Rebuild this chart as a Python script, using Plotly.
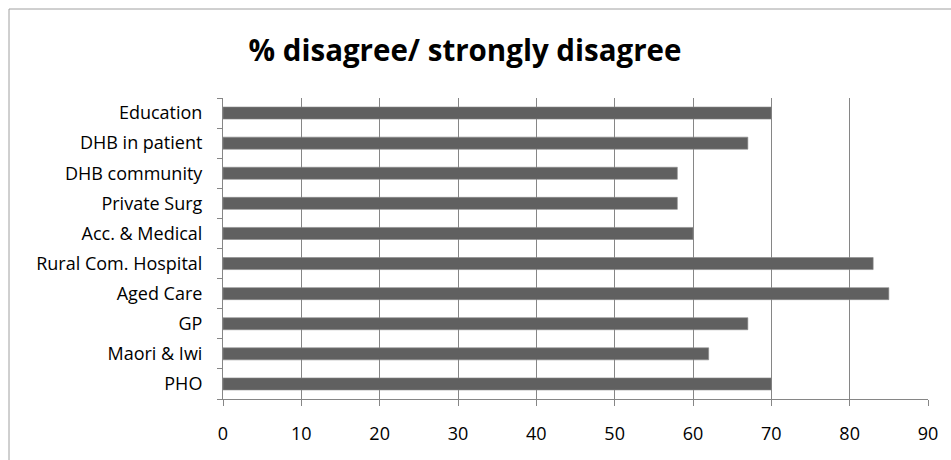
import plotly.graph_objects as go

# Survey categories (top to bottom as displayed) and % disagree/strongly disagree
categories = [
    "Education",
    "DHB in patient",
    "DHB community",
    "Private Surg",
    "Acc. & Medical",
    "Rural Com. Hospital",
    "Aged Care",
    "GP",
    "Maori & Iwi",
    "PHO",
]
values = [70, 67, 58, 58, 60, 83, 85, 67, 62, 70]
x_ticks = [0, 10, 20, 30, 40, 50, 60, 70, 80, 90]

FONT = "Open Sans"
GRID = "#868686"

fig = go.Figure(
    go.Bar(
        x=values[::-1],
        y=categories[::-1],
        orientation="h",
        width=0.4,
        marker=dict(color="#606060", line=dict(color="#8a8a8a", width=0.6)),
        hoverinfo="x+y",
    )
)

W, H = 951, 460
L, R, T, B = 223, 23, 98, 61
pw, ph = W - L - R, H - T - B

fig.update_layout(
    width=W,
    height=H,
    margin=dict(l=L, r=R, t=T, b=B),
    paper_bgcolor="white",
    plot_bgcolor="white",
    showlegend=False,
    bargap=0.6,
    title=dict(
        text="<b>% disagree/ strongly disagree</b>",
        font=dict(family=FONT, size=29.5, color="#000000"),
        x=465 / W,
        xanchor="center",
        y=1 - 51 / H,
        yanchor="middle",
    ),
    xaxis=dict(
        range=[0, 90],
        tickvals=x_ticks,
        ticktext=[str(v) for v in x_ticks],
        showgrid=True,
        gridcolor=GRID,
        gridwidth=1,
        zeroline=False,
        showline=True,
        linecolor=GRID,
        linewidth=1,
        ticks="outside",
        ticklen=6,
        tickcolor=GRID,
        tickfont=dict(family=FONT, size=18, color="#000000"),
        ticklabelstandoff=12,
    ),
    yaxis=dict(
        type="category",
        categoryorder="array",
        categoryarray=categories[::-1],
        tickson="boundaries",
        showgrid=False,
        showline=True,
        linecolor=GRID,
        linewidth=1,
        ticks="outside",
        ticklen=5,
        tickcolor=GRID,
        tickfont=dict(family=FONT, size=18, color="#000000"),
        ticklabelstandoff=16,
    ),
    shapes=[
        # chart frame: top and left edges
        dict(type="line", xref="paper", yref="paper",
             x0=(9 - L) / pw, x1=(W - L) / pw,
             y0=1 + (T - 9) / ph, y1=1 + (T - 9) / ph,
             line=dict(color="#a0a0a0", width=1)),
        dict(type="line", xref="paper", yref="paper",
             x0=(9 - L) / pw, x1=(9 - L) / pw,
             y0=1 + (T - 9) / ph, y1=-B / ph,
             line=dict(color="#a0a0a0", width=1)),
    ],
)

fig.write_html("out.html")
